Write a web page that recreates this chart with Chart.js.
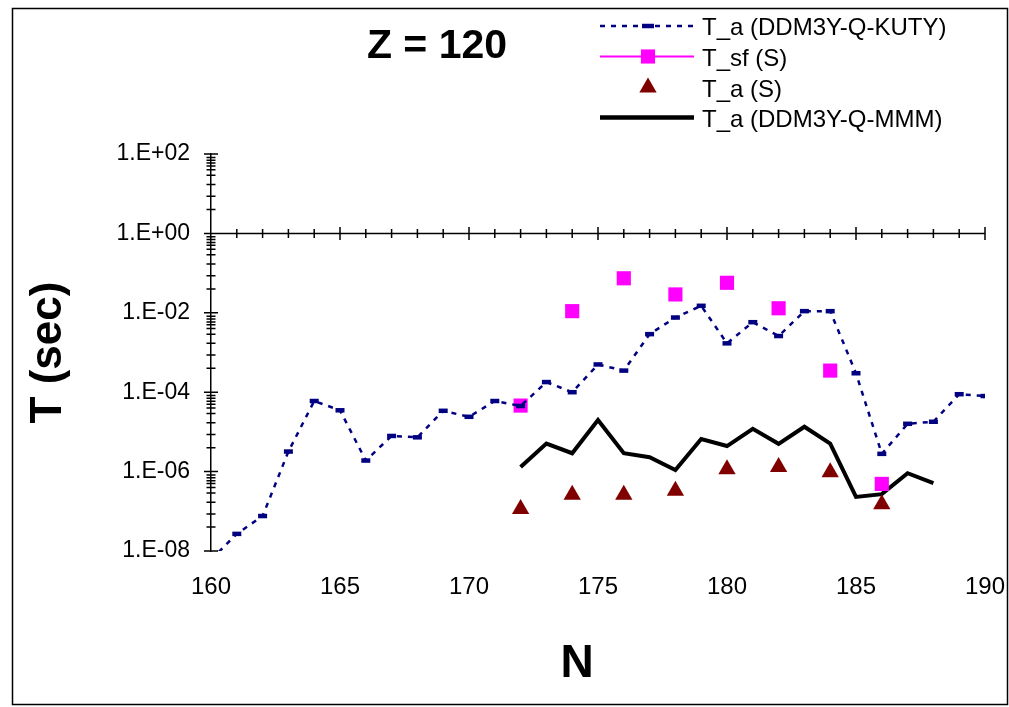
<!DOCTYPE html>
<html>
<head>
<meta charset="utf-8">
<title>Z = 120</title>
<script src="https://cdn.jsdelivr.net/npm/chart.js@4.4.0/dist/chart.umd.min.js"></script>
<style>
  html, body { margin: 0; padding: 0; background: #fff; }
  canvas { display: block; }
</style>
</head>
<body>
<canvas id="myChart" width="1009" height="707"></canvas>
<script>
// T_a (DDM3Y-Q-KUTY), one value per neutron number
const nKuty = [160, 161, 162, 163, 164, 165, 166, 167, 168, 169, 170, 171, 172, 173, 174, 175,
               176, 177, 178, 179, 180, 181, 182, 183, 184, 185, 186, 187, 188, 189, 190];
const tKuty = [6e-9, 2.7e-8, 7.6e-8, 3.2e-6, 6.0e-5, 3.5e-5, 1.9e-6, 7.9e-6, 7.3e-6, 3.4e-5, 2.4e-5,
               6.0e-5, 4.5e-5, 1.8e-4, 1.0e-4, 5.0e-4, 3.5e-4, 2.9e-3, 7.6e-3, 1.5e-2, 1.7e-3,
               5.8e-3, 2.6e-3, 1.1e-2, 1.1e-2, 3.0e-4, 2.8e-6, 1.6e-5, 1.8e-5, 8.9e-5, 8.0e-5];

// T_sf (S) and T_a (S)
const nS = [172, 174, 176, 178, 180, 182, 184, 186];
const tSfS = [4.6e-5, 1.1e-2, 7.4e-2, 2.9e-2, 5.7e-2, 1.3e-2, 3.5e-4, 4.9e-7];
const tAS = [1.15e-7, 2.6e-7, 2.6e-7, 3.3e-7, 1.15e-6, 1.3e-6, 9.7e-7, 1.5e-7];

// T_a (DDM3Y-Q-MMM)
const nMmm = [172, 173, 174, 175, 176, 177, 178, 179, 180, 181, 182, 183, 184, 185, 186, 187, 188];
const tMmm = [1.3e-6, 5.1e-6, 2.9e-6, 2.0e-5, 2.9e-6, 2.3e-6, 1.1e-6, 6.6e-6, 4.4e-6, 1.2e-5,
              5.0e-6, 1.35e-5, 5.1e-6, 2.3e-7, 2.7e-7, 9.1e-7, 5.1e-7];

const seriesLabels = ['T_a (DDM3Y-Q-KUTY)', 'T_sf (S)', 'T_a (S)', 'T_a (DDM3Y-Q-MMM)'];

// axis ticks
const xMin = 160, xMax = 190, xStep = 5;
const yMajorExps = [-8, -6, -4, -2, 0, 2];
const yMinorFactors = [4, 8.6, 17, 29, 40, 50, 59, 70, 82];

const pts = (xs, ys) => xs.map((x, i) => ({ x: x, y: ys[i] }));

const yTickValues = [];
yMajorExps.forEach((e, i) => {
  yTickValues.push(Math.pow(10, e));
  if (i < yMajorExps.length - 1) {
    yMinorFactors.forEach(f => yTickValues.push(f * Math.pow(10, e)));
  }
});

function expLabel(v) {
  const e = Math.round(Math.log10(v));
  if (Math.abs(Math.log10(v) - e) > 1e-6 || !yMajorExps.includes(e)) return '';
  const s = String(Math.abs(e)).padStart(2, '0');
  return '1.E' + (e < 0 ? '-' : '+') + s;
}

Chart.defaults.font.family = '"Liberation Sans", Arial, sans-serif';
Chart.defaults.color = '#000';

// Excel-like extras: axis crossing at y = 1, tick marks, titles, legend, frame
const excelLook = {
  id: 'excelLook',
  beforeDatasetsDraw(chart) {
    const ctx = chart.ctx;
    const xs = chart.scales.x, ys = chart.scales.y;
    const yAxis = ys.getPixelForValue(1);
    const xAxis = xs.getPixelForValue(xMin);
    ctx.save();
    ctx.strokeStyle = '#000';
    ctx.lineWidth = 1.5;
    ctx.beginPath();
    ctx.moveTo(xs.getPixelForValue(xMin), yAxis);
    ctx.lineTo(xs.getPixelForValue(xMax), yAxis);
    // x ticks on the crossing axis
    for (let n = xMin + 1; n <= xMax; n++) {
      const px = xs.getPixelForValue(n);
      const len = (n % xStep === 0) ? 6.5 : 4.5;
      ctx.moveTo(px, yAxis - len);
      ctx.lineTo(px, yAxis + len);
    }
    // y ticks crossing the vertical axis
    yTickValues.forEach(v => {
      const py = ys.getPixelForValue(v);
      const len = expLabel(v) ? 7 : 4.5;
      ctx.moveTo(xAxis - len, py);
      ctx.lineTo(xAxis + len, py);
    });
    ctx.stroke();
    ctx.restore();
  },
  afterDraw(chart) {
    const ctx = chart.ctx;
    ctx.save();
    ctx.fillStyle = '#000';
    ctx.textBaseline = 'alphabetic';

    // chart title and x axis title
    ctx.font = 'bold 41px "Liberation Sans", Arial, sans-serif';
    ctx.textAlign = 'center';
    ctx.fillText('Z = 120', 437, 58);
    ctx.font = 'bold 46px "Liberation Sans", Arial, sans-serif';
    ctx.fillText('N', 577, 677);

    // legend
    const lx0 = 600, lx1 = 694, lmx = 648, ltx = 702;
    const rowY = [26, 56.5, 87.5, 117.5];
    ctx.font = '24px "Liberation Sans", Arial, sans-serif';
    ctx.textAlign = 'left';
    chart.data.datasets.forEach((ds, i) => {
      const y = rowY[i];
      if (ds.legendLine) {
        ctx.save();
        ctx.strokeStyle = ds.legendLine.color;
        ctx.lineWidth = ds.legendLine.width;
        ctx.setLineDash(ds.legendLine.dash || []);
        ctx.beginPath();
        ctx.moveTo(lx0, y);
        ctx.lineTo(lx1, y);
        ctx.stroke();
        ctx.restore();
      }
      if (ds.pointRadius > 0) {
        ctx.save();
        ctx.setLineDash([]);
        ctx.fillStyle = ds.pointBackgroundColor;
        ctx.strokeStyle = ds.pointBorderColor;
        ctx.lineWidth = ds.pointBorderWidth;
        Chart.helpers.drawPoint(ctx, {
          pointStyle: ds.pointStyle,
          radius: ds.legendRadius || ds.pointRadius,
          borderWidth: ds.pointBorderWidth,
          rotation: 0
        }, lmx, y);
        ctx.restore();
      }
      ctx.fillStyle = '#000';
      ctx.fillText(ds.label, ltx, y + 9);
    });

    // outer frame
    ctx.strokeStyle = '#000';
    ctx.lineWidth = 1.5;
    ctx.strokeRect(12.5, 8.5, 995, 696);
    ctx.restore();
  }
};

const ctx = document.getElementById('myChart');

new Chart(ctx, {
  type: 'scatter',
  data: {
    datasets: [
      {
        label: seriesLabels[0],
        type: 'line',
        data: pts(nKuty, tKuty),
        borderColor: '#000080',
        backgroundColor: '#000080',
        borderWidth: 2.5,
        borderDash: [5, 6],
        tension: 0,
        pointStyle: 'line',
        pointRadius: 4.5,
        legendRadius: 6,
        pointBorderWidth: 4.5,
        pointBackgroundColor: '#000080',
        pointBorderColor: '#000080',
        legendLine: { color: '#000080', width: 2.5, dash: [5, 6] }
      },
      {
        label: seriesLabels[1],
        data: pts(nS, tSfS),
        showLine: false,
        pointStyle: 'rect',
        pointRadius: 10,
        pointBorderWidth: 0,
        pointBackgroundColor: '#FF00FF',
        pointBorderColor: '#FF00FF',
        legendLine: { color: '#FF00FF', width: 2 }
      },
      {
        label: seriesLabels[2],
        data: pts(nS, tAS),
        showLine: false,
        pointStyle: 'triangle',
        pointRadius: 10,
        pointBorderWidth: 0,
        pointBackgroundColor: '#800000',
        pointBorderColor: '#800000'
      },
      {
        label: seriesLabels[3],
        type: 'line',
        data: pts(nMmm, tMmm),
        borderColor: '#000000',
        backgroundColor: '#000000',
        borderWidth: 4,
        tension: 0,
        pointRadius: 0,
        legendLine: { color: '#000000', width: 4.5 }
      }
    ]
  },
  options: {
    responsive: false,
    animation: false,
    devicePixelRatio: 1,
    layout: { padding: { top: 154, right: 24, left: 0, bottom: 0 } },
    plugins: {
      legend: { display: false },
      tooltip: { enabled: false }
    },
    scales: {
      x: {
        type: 'linear',
        min: xMin,
        max: xMax,
        grid: { display: false, drawTicks: false },
        border: { display: false },
        ticks: { stepSize: xStep, padding: 22, font: { size: 24 }, color: '#000' },
        afterFit(scale) {
          scale.height = 156;
          scale.paddingLeft = 0;
          scale.paddingRight = 20;
        }
      },
      y: {
        type: 'logarithmic',
        min: 1e-8,
        max: 1e2,
        grid: { display: false, drawTicks: false },
        border: { display: true, color: '#000', width: 1.5 },
        ticks: {
          autoSkip: false,
          padding: 21,
          font: { size: 23 },
          color: '#000',
          callback: (v) => expLabel(v)
        },
        afterBuildTicks(scale) {
          scale.ticks = yTickValues.map(v => ({ value: v }));
        },
        title: {
          display: true,
          text: 'T (sec)',
          color: '#000',
          font: { size: 44, weight: 'bold' },
          padding: { top: 22, bottom: 0 }
        },
        afterFit(scale) { scale.width = 211; }
      }
    }
  },
  plugins: [excelLook]
});
</script>
</body>
</html>
